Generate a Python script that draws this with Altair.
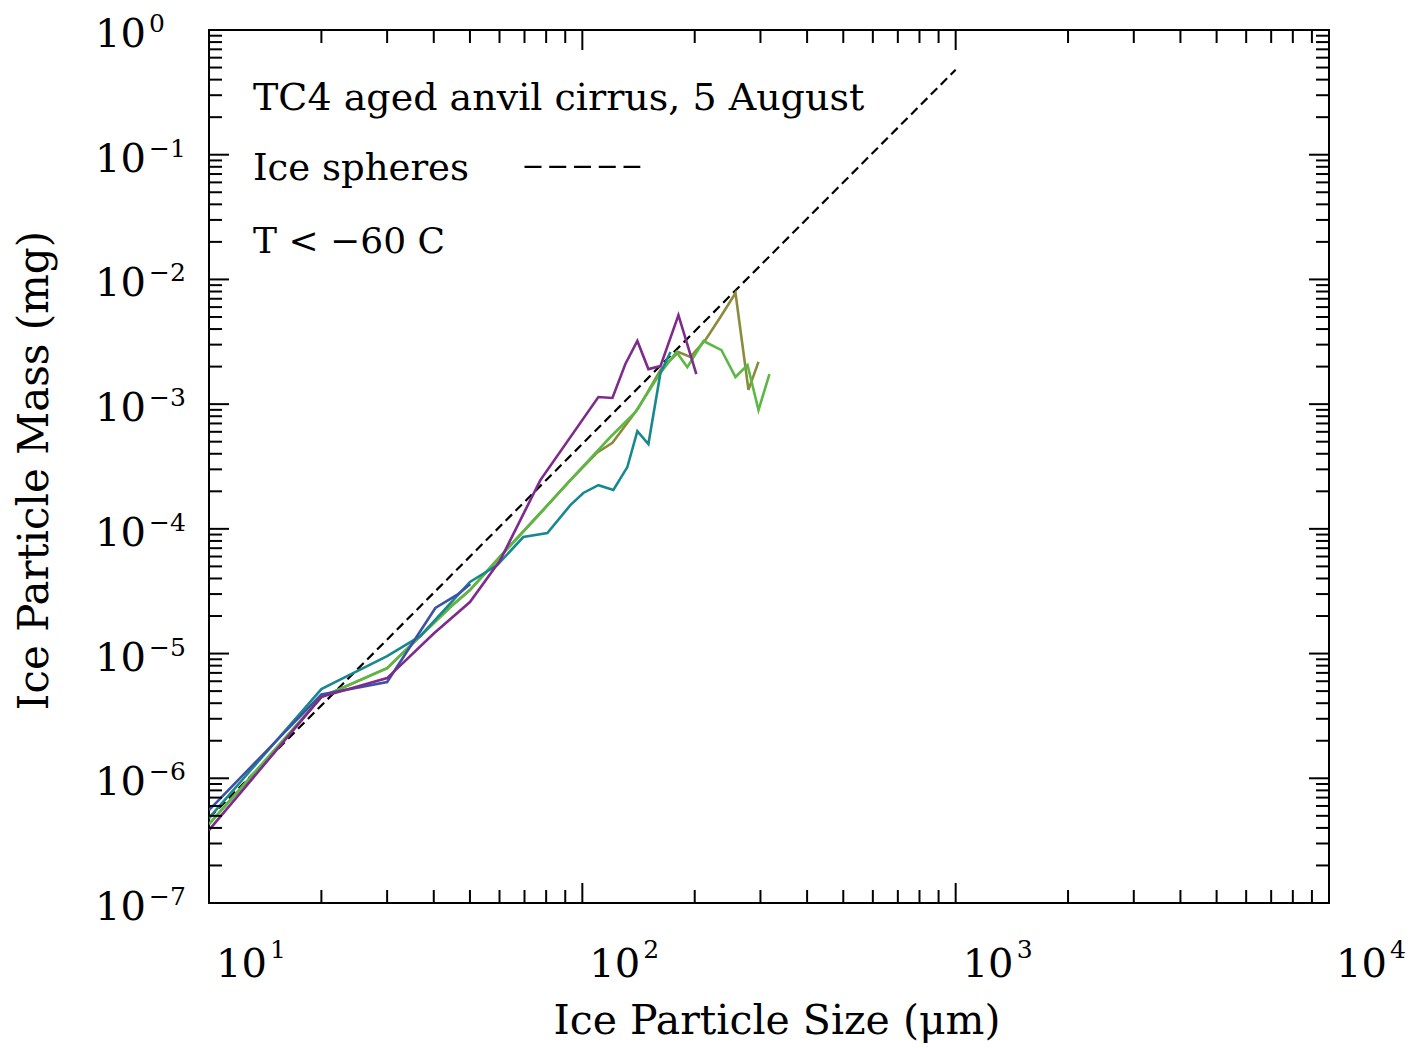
import altair as alt
import pandas as pd

# ---------------- data ----------------
purple_d = [10, 20, 30, 40, 50, 60.3, 77.2, 110.4, 120.4, 130.4, 140.4, 150.3, 161.9, 180.9, 202]
purple_m = [3.84e-7, 4.5e-6, 6.36e-6, 1.45e-5, 2.59e-5, 5.62e-5, 2.46e-4, 1.14e-3, 1.12e-3,
            2.10e-3, 3.21e-3, 1.91e-3, 2.02e-3, 5.18e-3, 1.74e-3]

blue_d = [10, 20, 30, 40.4, 46.5, 50.1]
blue_m = [5.56e-7, 4.7e-6, 5.91e-6, 2.32e-5, 3.00e-5, 3.61e-5]

teal_d = [10, 20, 21.5, 30, 36.8, 50, 59.2, 69.5, 80.6, 92.9, 100.6, 110.4, 121.1, 132,
          140.4, 150.3, 161.9, 172.2]
teal_m = [4.8e-7, 5.19e-6, 5.80e-6, 9.55e-6, 1.38e-5, 3.75e-5, 5.13e-5, 8.60e-5, 9.25e-5,
          1.55e-4, 1.94e-4, 2.24e-4, 2.05e-4, 3.13e-4, 6.08e-4, 4.79e-4, 1.78e-3, 2.62e-3]

green_d = [10, 20, 30, 44.3, 50, 61.4, 77.2, 92.9, 118.9, 138.7, 161.9, 178.7, 191.1, 211.1,
           235.9, 257.2, 277, 296.4, 317.1]
green_m = [4.29e-7, 4.48e-6, 7.65e-6, 2.36e-5, 3.23e-5, 6.39e-5, 1.34e-4, 2.46e-4, 5.45e-4,
           8.64e-4, 1.78e-3, 2.62e-3, 1.98e-3, 3.21e-3, 2.71e-3, 1.65e-3, 2.06e-3, 8.97e-4, 1.74e-3]

olive_d = [10, 20, 30, 44.3, 50, 61.4, 77.2, 92.9, 109.7, 120.4, 141.3, 161.9, 180.9, 194.8,
           213.7, 234.4, 257.2, 278.6, 296.4]
olive_m = [4.29e-7, 4.48e-6, 7.65e-6, 2.36e-5, 3.23e-5, 6.39e-5, 1.34e-4, 2.46e-4, 4.1e-4,
           4.9e-4, 9.3e-4, 1.88e-3, 2.62e-3, 2.39e-3, 3.27e-3, 4.99e-3, 7.78e-3, 1.30e-3, 2.18e-3]

sphere_d = [10, 1000]
sphere_m = [4.8e-7, 0.48]

legend_dash_d = [70, 143]
legend_dash_m = 0.08

x_major = [100, 1000]
x_minor = [20, 30, 40, 50, 60, 70, 80, 90, 200, 300, 400, 500, 600, 700, 800, 900,
           2000, 3000, 4000, 5000, 6000, 7000, 8000, 9000]
y_major = [1e-6, 1e-5, 1e-4, 1e-3, 1e-2, 1e-1]
y_minor = [k * 10.0 ** e for e in range(-7, 0) for k in range(2, 10)]

x_label_vals = [10, 100, 1000, 10000]
x_label_exp = ["1", "2", "3", "4"]
y_label_vals = [1e0, 1e-1, 1e-2, 1e-3, 1e-4, 1e-5, 1e-6, 1e-7]
y_label_exp = ["0", "\u22121", "\u22122", "\u22123", "\u22124", "\u22125", "\u22126", "\u22127"]

notes = ["TC4 aged anvil cirrus, 5 August", "Ice spheres", "T < \u221260 C"]
x_title = "Ice Particle Size (\u03bcm)"
y_title = "Ice Particle Mass (mg)"

# ---------------- chart ----------------
W, H = 1120, 873
FONT = "DejaVu Serif"
xs = alt.Scale(type="log", domain=[10, 10000], nice=False)
ys = alt.Scale(type="log", domain=[1e-7, 1], nice=False)


def X(f):
    return alt.X(f, type="quantitative", scale=xs, axis=None)


def Y(f):
    return alt.Y(f, type="quantitative", scale=ys, axis=None)


def series(d, m, color, width=2.6, dash=None):
    df = pd.DataFrame({"d": d, "m": m})
    kw = dict(color=color, strokeWidth=width, clip=True)
    if dash:
        kw["strokeDash"] = dash
    return alt.Chart(df).mark_line(**kw).encode(x=X("d"), y=Y("m"))


layers = []
layers.append(series(sphere_d, sphere_m, "black", 2.2, [9, 5]))
layers.append(series(olive_d, olive_m, "#8C8A3C"))
layers.append(series(green_d, green_m, "#5BB843"))
layers.append(series(teal_d, teal_m, "#17898E"))
layers.append(series(blue_d, blue_m, "#3B52A6"))
layers.append(series(purple_d, purple_m, "#7F2A8D"))

# legend dash segment
leg = pd.DataFrame({"d": [legend_dash_d[0]], "d2": [legend_dash_d[1]], "m": [legend_dash_m]})
layers.append(alt.Chart(leg).mark_rule(color="black", strokeWidth=2.2, strokeDash=[17, 7.75]).encode(
    x=X("d"), x2="d2", y=Y("m")))

# inward ticks on all four sides
def xticks(vals, length):
    df = pd.DataFrame({"v": vals})
    base = alt.Chart(df).mark_rule(color="black", strokeWidth=2)
    return [base.encode(x=X("v"), y=alt.value(H), y2=alt.value(H - length)),
            base.encode(x=X("v"), y=alt.value(0), y2=alt.value(length))]


def yticks(vals, length):
    df = pd.DataFrame({"v": vals})
    base = alt.Chart(df).mark_rule(color="black", strokeWidth=2)
    return [base.encode(y=Y("v"), x=alt.value(0), x2=alt.value(length)),
            base.encode(y=Y("v"), x=alt.value(W), x2=alt.value(W - length))]


layers += xticks(x_major, 20) + xticks(x_minor, 13) + yticks(y_major, 20) + yticks(y_minor, 13)

# tick labels as 10 with superscript exponents
xl = pd.DataFrame({"v": x_label_vals, "e": x_label_exp})
layers.append(alt.Chart(xl).mark_text(align="left", baseline="alphabetic", font=FONT, fontSize=40,
                                      dx=7, color="black").encode(
    x=X("v"), y=alt.value(H + 74), text=alt.value("10")))
layers.append(alt.Chart(xl).mark_text(align="left", baseline="alphabetic", font=FONT, fontSize=25,
                                      dx=61, color="black").encode(
    x=X("v"), y=alt.value(H + 55), text="e:N"))

yl = pd.DataFrame({"v": y_label_vals, "e": y_label_exp})
layers.append(alt.Chart(yl).mark_text(align="left", baseline="alphabetic", font=FONT, fontSize=40,
                                      dy=17, color="black").encode(
    x=alt.value(-114), y=Y("v"), text=alt.value("10")))
layers.append(alt.Chart(yl).mark_text(align="left", baseline="alphabetic", font=FONT, fontSize=25,
                                      dy=2, color="black").encode(
    x=alt.value(-60), y=Y("v"), text="e:N"))

# annotations
nd = pd.DataFrame({"t": notes, "yy": [80, 150, 223], "fs": [38, 37, 36]})
layers.append(alt.Chart(nd).mark_text(align="left", baseline="alphabetic", font=FONT,
                                      color="black").encode(
    x=alt.value(44), y=alt.Y("yy:Q", scale=None, axis=None), text="t:N",
    size=alt.Size("fs:Q", scale=None, legend=None)))

# axis titles
layers.append(alt.Chart(pd.DataFrame({"t": [x_title]})).mark_text(
    align="center", baseline="alphabetic", font=FONT, fontSize=41, color="black").encode(
    x=alt.value(W / 2 + 8), y=alt.value(H + 131), text="t:N"))
layers.append(alt.Chart(pd.DataFrame({"t": [y_title]})).mark_text(
    align="center", baseline="middle", font=FONT, fontSize=42, angle=270, color="black").encode(
    x=alt.value(-174), y=alt.value(H / 2 + 4), text="t:N"))

chart = alt.layer(*layers).properties(
    width=W, height=H,
    autosize=alt.AutoSizeParams(type="none"),
    padding={"left": 209, "top": 30, "right": 83, "bottom": 145},
    background="white",
).configure_view(stroke="black", strokeWidth=2)

chart.save("out.html", embed_options={"renderer": "svg", "actions": False})
